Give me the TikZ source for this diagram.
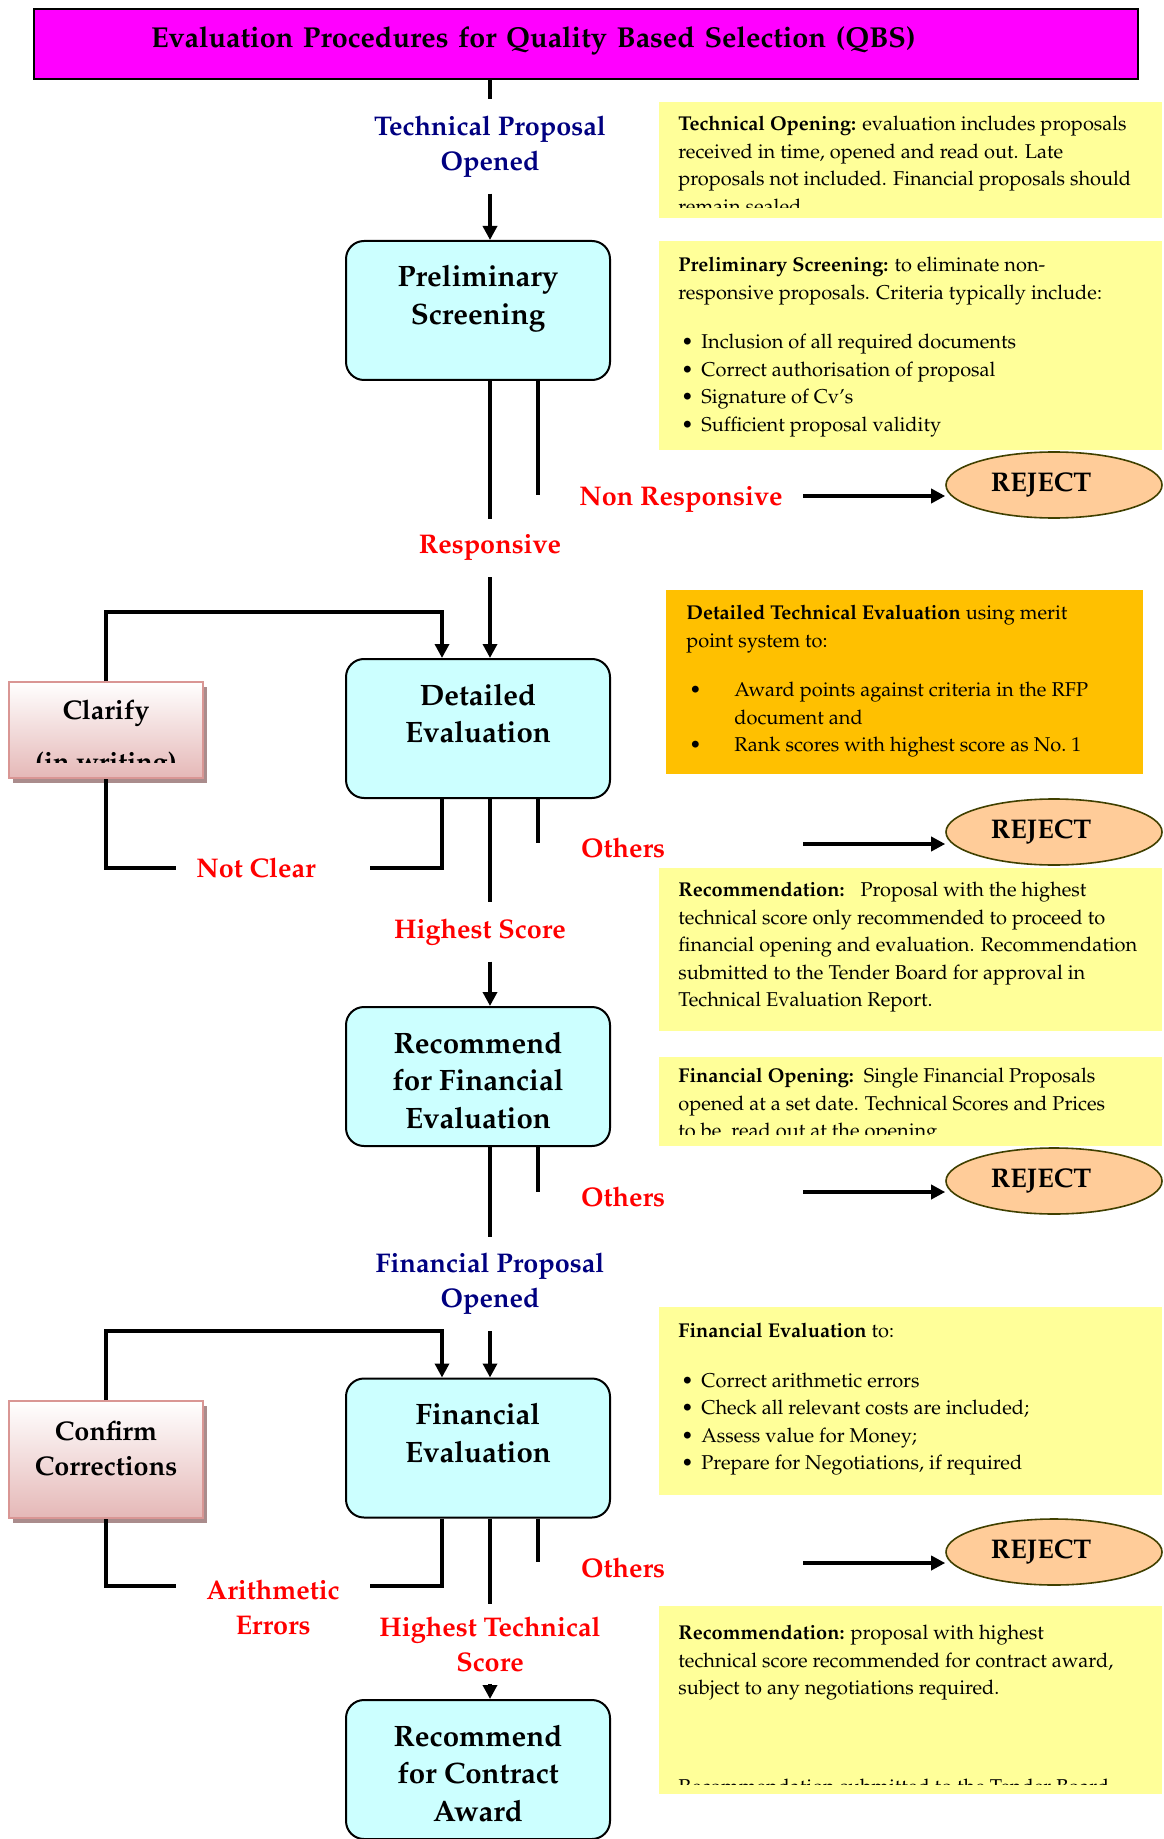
\documentclass[tikz,border=0pt]{standalone}
\usepackage[T1]{fontenc}
\usepackage{mathpazo}
\usepackage{xcolor}
\definecolor{TitleFill}{RGB}{255,0,255}
\definecolor{StepFill}{RGB}{204,255,255}
\definecolor{NoteFill}{RGB}{255,255,153}
\definecolor{DetailFill}{RGB}{255,192,0}
\definecolor{RejectFill}{RGB}{255,204,153}
\definecolor{RejectLine}{RGB}{64,64,0}
\definecolor{LabelNavy}{RGB}{0,0,128}
\definecolor{LabelRed}{RGB}{255,0,0}
\definecolor{PinkLine}{RGB}{217,150,148}
\definecolor{PinkFill}{RGB}{229,184,183}
\definecolor{PinkShadow}{RGB}{170,140,140}
\usepackage{tikz}
\usetikzlibrary{shapes.geometric}
\usetikzlibrary{arrows.meta}
\usetikzlibrary{shadows}
\newcommand{\StepFont}{\fontsize{14.75}{18.75}\selectfont\bfseries}
\newcommand{\LabelFont}{\fontsize{13.5}{17.5}\selectfont\bfseries}
\newcommand{\NoteFont}{\fontsize{10}{13.75}\selectfont}
\newcommand{\StepText}[1]{\parbox[c][69.5pt][t]{128pt}{\centering\StepFont\rule{0pt}{23pt}#1}}
\newcommand{\NoteBullet}[1][11.5pt]{\makebox[#1][l]{\hspace{1.5pt}\textbullet}}
\tikzstyle{Edge}=[draw,line width=1.7pt]
\tikzstyle{Arrow}=[Edge,-{Triangle[length=7pt,width=7pt]}]
\tikzstyle{Title}=[rectangle,draw,line width=1pt,fill=TitleFill,minimum width=552pt,
minimum height=35pt,text width=552pt,inner sep=0pt,align=left,text height=11pt,
text depth=7pt,font=\fontsize{14.4}{18}\selectfont\bfseries]
\tikzstyle{Step}=[rectangle,rounded corners=9pt,draw,line width=1pt,fill=StepFill,
minimum width=132pt,minimum height=69.5pt,inner sep=0pt]
\tikzstyle{Side}=[rectangle,draw=PinkLine,line width=1pt,top color=white,
bottom color=PinkFill,minimum width=97pt,inner sep=0pt,
drop shadow={shadow xshift=2pt,shadow yshift=-2.5pt,fill=PinkShadow,opacity=1}]
\tikzstyle{SideText}=[anchor=north,align=center,inner sep=0pt,font=\LabelFont]
\tikzstyle{Reject}=[ellipse,draw=RejectLine,line width=0.8pt,fill=RejectFill,
minimum width=108pt,minimum height=33pt,inner sep=0pt,font=\LabelFont]
\tikzstyle{NavyLabel}=[align=center,inner xsep=2pt,inner ysep=8pt,text=LabelNavy,font=\LabelFont]
\tikzstyle{RedLabel}=[align=center,inner xsep=2pt,inner ysep=8pt,text=LabelRed,font=\LabelFont]
\tikzstyle{LoopLabel}=[RedLabel,inner sep=0pt,minimum width=97pt]
\tikzstyle{Note}=[rectangle,anchor=north west,fill=NoteFill,minimum width=251.5pt,inner sep=0pt]
\tikzstyle{NoteText}=[anchor=north west,align=left,inner sep=0pt,font=\NoteFont]

\begin{document}
\begin{tikzpicture}[x=0.5pt,y=-0.5pt]
    \useasboundingbox (0,0) rectangle (1163,1839);
    \coordinate (m) at (490,0);
    \node[Title](title)at(586,44){\hspace*{58.5pt}Evaluation Procedures for Quality Based Selection (QBS)};
    \node[NavyLabel](techprop)at(490,146.5){Technical Proposal\\Opened};
    \node[Step](prelim)at(478,310.5){\StepText{Preliminary\\Screening}};
    \node[RedLabel](resp)at(490,548){Responsive};
    \node[RedLabel](nonresp)at(681,500){Non Responsive};
    \node[Step](detail)at(478,728.5){\StepText{Detailed\\Evaluation}};
    \node[RedLabel](others1)at(623,848){Others};
    \node[RedLabel](highscore)at(480,932){Highest Score};
    \node[Step](recfin)at(478,1076.5){\StepText{Recommend\\for Financial\\Evaluation}};
    \node[RedLabel](others2)at(623,1197){Others};
    \node[NavyLabel](finprop)at(490,1284){Financial Proposal\\Opened};
    \node[Step](fineval)at(478,1448){\StepText{Financial\\Evaluation}};
    \node[RedLabel](others3)at(623,1568){Others};
    \node[RedLabel,inner ysep=6pt](hightech)at(490,1644){Highest Technical\\Score};
    \node[Step](award)at(478,1769.5){\StepText{Recommend\\for Contract\\Award}};
    \draw[Edge](title.south -| m)--(techprop.north -| m);
    \draw[Arrow](techprop.south -| m)--(prelim.north -| m);
    \draw[Edge](prelim.south -| m)--(resp.north -| m);
    \draw[Arrow](resp.south -| m)--(detail.north -| m);
    \draw[Edge](detail.south -| m)--(highscore.north -| m);
    \draw[Arrow](highscore.south -| m)--(recfin.north -| m);
    \draw[Edge](recfin.south -| m)--(finprop.north -| m);
    \draw[Arrow](finprop.south -| m)--(fineval.north -| m);
    \draw[Edge](fineval.south -| m)--(hightech.north -| m);
    \draw[Arrow](hightech.south -| m)--(award.north -| m);
    \node[Reject](rej1)at(1054,485){REJECT\hspace*{13pt}};
    \node[Reject](rej2)at(1054,832){REJECT\hspace*{13pt}};
    \node[Reject](rej3)at(1054,1181){REJECT\hspace*{13pt}};
    \node[Reject](rej4)at(1054,1552){REJECT\hspace*{13pt}};
    \coordinate (o1) at (538,495);
    \coordinate (o2) at (538,843);
    \coordinate (o3) at (538,1192);
    \coordinate (o4) at (538,1562);
    \draw[Edge](prelim.south -| o1)--(o1);
    \draw[Edge](detail.south -| o2)--(o2);
    \draw[Edge](recfin.south -| o3)--(o3);
    \draw[Edge](fineval.south -| o4)--(o4);
    \coordinate (r1) at (803,496);
    \coordinate (r2) at (803,844);
    \coordinate (r3) at (803,1192);
    \coordinate (r4) at (803,1563);
    \draw[Arrow](r1)--(r1 -| rej1.west);
    \draw[Arrow](r2)--(r2 -| rej2.west);
    \draw[Arrow](r3)--(r3 -| rej3.west);
    \draw[Arrow](r4)--(r4 -| rej4.west);
    \node[Side,minimum height=48pt](clarify)at(106,730){};
    \begin{scope}
        \clip (9,682) rectangle (203,762);
        \node[SideText](clarifytext)at(106,700){Clarify\\[8.5pt](in writing)};
    \end{scope}
    \coordinate (t1) at (442,612);
    \draw[Arrow](clarify.north) |- (t1)--(t1 |- detail.north);
    \node[LoopLabel](notclear)at(273,868){Not Clear\hspace*{17pt}};
    \draw[Edge](detail.south -| t1) |- (notclear.east);
    \draw[Edge](notclear.west) -| (clarify.south);
    \node[Side,minimum height=58.5pt](confirm)at(106,1459.5){};
    \node[SideText](confirmtext)at(106,1421){Confirm\\Corrections};
    \coordinate (t2) at (442,1331);
    \draw[Arrow](confirm.north) |- (t2)--(t2 |- fineval.north);
    \node[LoopLabel](arith)at(273,1607.5){Arithmetic\\Errors};
    \draw[Edge](fineval.south -| t2) |- ([yshift=10.75pt]arith.east);
    \draw[Edge]([yshift=10.75pt]arith.west) -| (confirm.south);
    \node[Note,minimum height=58pt](techopen)at(659,102){};
    \begin{scope}
        \clip (659,102) rectangle (1162,208);
        \node[NoteText](techopentext)at(678,116){\textbf{Technical Opening:} evaluation includes proposals\\received in time, opened and read out. Late\\proposals not included. Financial proposals should\\remain sealed};
    \end{scope}
    \node[Note,minimum height=104.5pt](screen)at(659,241){};
    \node[NoteText](screentext)at(678,257){\textbf{Preliminary Screening:} to eliminate non-\\responsive proposals. Criteria typically include:\\[11pt]\NoteBullet Inclusion of all required documents\\\NoteBullet Correct authorisation of proposal\\\NoteBullet Signature of Cv's\\\NoteBullet Sufficient proposal validity};
    \node[Note,fill=DetailFill,minimum width=238.5pt,minimum height=92pt](merit)at(666,590){};
    \node[NoteText](merittext)at(686,605){\textbf{Detailed Technical Evaluation} using merit\\point system to:\\[11pt]\NoteBullet[24pt]Award points against criteria in the RFP\\\hspace*{24pt}document and\\\NoteBullet[24pt]Rank scores with highest score as No.~1};
    \node[Note,minimum height=81.5pt](techrec)at(659,868){};
    \node[NoteText](techrectext)at(678,882){\textbf{Recommendation:}\hspace{0.8em}Proposal with the highest\\technical score only recommended to proceed to\\financial opening and evaluation. Recommendation\\submitted to the Tender Board for approval in\\Technical Evaluation Report.};
    \node[Note,minimum height=44.5pt](finopen)at(659,1057){};
    \begin{scope}
        \clip (659,1057) rectangle (1162,1134);
        \node[NoteText](finopentext)at(678,1068){\textbf{Financial Opening:}\hspace{0.5em}Single Financial Proposals\\opened at a set date. Technical Scores and Prices\\to be\hspace{0.5em}read out at the opening};
    \end{scope}
    \node[Note,minimum height=94pt](finnote)at(659,1307){};
    \node[NoteText](finnotetext)at(678,1323){\textbf{Financial Evaluation} to:\\[11pt]\NoteBullet Correct arithmetic errors\\\NoteBullet Check all relevant costs are included;\\\NoteBullet Assess value for Money;\\\NoteBullet Prepare for Negotiations, if required};
    \node[Note,minimum height=94pt](awardrec)at(659,1606){};
    \begin{scope}
        \clip (659,1606) rectangle (1162,1784);
        \node[NoteText](awardrectext)at(678,1625){\textbf{Recommendation:} proposal with highest\\technical score recommended for contract award,\\subject to any negotiations required.\\[35.5pt]Recommendation submitted to the Tender Board};
    \end{scope}
\end{tikzpicture}
\end{document}
